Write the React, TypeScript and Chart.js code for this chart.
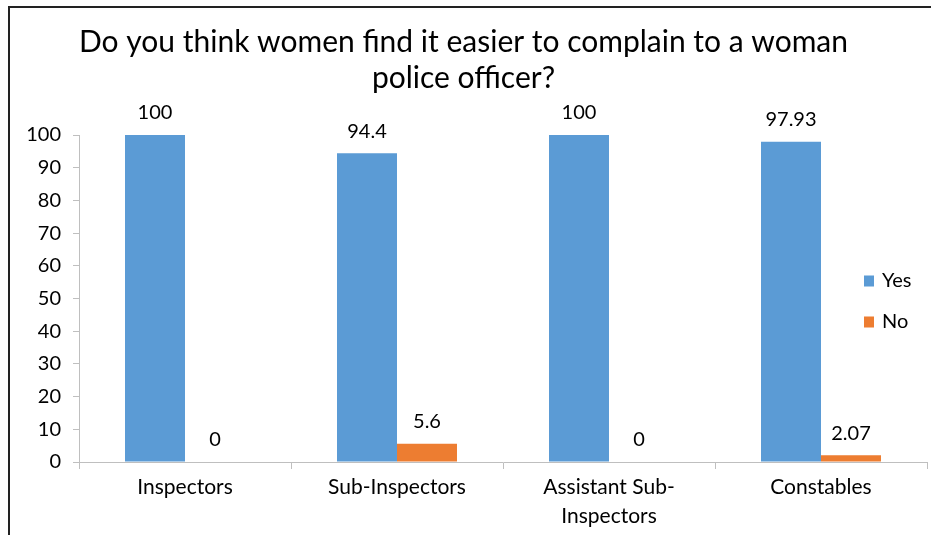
import React, { useEffect, useRef } from 'react';
import { Chart, registerables } from 'chart.js';

Chart.register(...registerables);

const titleLines = ['Do you think women find it easier to complain to a woman', 'police officer?'];
const categories: (string | string[])[] = ['Inspectors', 'Sub-Inspectors', ['Assistant Sub-', 'Inspectors'], 'Constables'];
const yesValues = [100, 94.4, 100, 97.93];
const noValues = [0, 5.6, 0, 2.07];
const seriesNames = ['Yes', 'No'];
const seriesColors = ['#5B9BD5', '#ED7D31'];
const yMin = 0;
const yMax = 100;
const yStep = 10;

const FONT = 'Lato, "Open Sans", sans-serif';

const borderPlugin = {
  id: 'frameBorder',
  afterDraw(chart: any) {
    const ctx = chart.ctx;
    ctx.save();
    ctx.strokeStyle = '#222';
    ctx.lineWidth = 2;
    ctx.beginPath();
    ctx.moveTo(9, chart.height);
    ctx.lineTo(9, 7);
    ctx.lineTo(chart.width, 7);
    ctx.stroke();
    ctx.restore();
  },
};

const valueLabelPlugin = {
  id: 'valueLabels',
  afterDatasetsDraw(chart: any) {
    const ctx = chart.ctx;
    ctx.save();
    ctx.font = `20px ${FONT}`;
    ctx.fillStyle = '#000';
    ctx.textAlign = 'center';
    ctx.textBaseline = 'middle';
    chart.data.datasets.forEach((ds: any, di: number) => {
      const meta = chart.getDatasetMeta(di);
      meta.data.forEach((bar: any, i: number) => {
        ctx.fillText(String(ds.data[i]), bar.x, bar.y - 22);
      });
    });
    ctx.restore();
  },
};

const legendPlugin = {
  id: 'customLegend',
  afterDraw(chart: any) {
    const ctx = chart.ctx;
    const area = chart.chartArea;
    ctx.save();
    ctx.font = `20px ${FONT}`;
    ctx.textAlign = 'left';
    ctx.textBaseline = 'middle';
    chart.data.datasets.forEach((ds: any, di: number) => {
      const x = area.right - 63;
      const yc = area.top + 146 + di * 41;
      ctx.fillStyle = ds.backgroundColor;
      ctx.fillRect(x, yc - 5.5, 10, 11);
      ctx.fillStyle = '#000';
      ctx.fillText(ds.label, x + 18, yc);
    });
    ctx.restore();
  },
};

export default function App() {
  const canvasRef = useRef<HTMLCanvasElement | null>(null);

  useEffect(() => {
    document.body.style.margin = '0';
    const canvas = canvasRef.current;
    if (!canvas) return;
    const chart = new Chart(canvas, {
      type: 'bar',
      data: {
        labels: categories as any,
        datasets: [
          { label: seriesNames[0], data: yesValues, backgroundColor: seriesColors[0], categoryPercentage: 0.566, barPercentage: 1 },
          { label: seriesNames[1], data: noValues, backgroundColor: seriesColors[1], categoryPercentage: 0.566, barPercentage: 1 },
        ],
      },
      options: {
        responsive: false,
        animation: false,
        layout: { padding: { top: 7, right: 4, left: 0, bottom: 0 } },
        plugins: {
          legend: { display: false },
          tooltip: { enabled: false },
          title: {
            display: true,
            text: titleLines,
            color: '#000',
            font: { family: FONT, size: 30, weight: 'normal', lineHeight: 1.2 },
            padding: { top: 17, bottom: 39 },
          },
        },
        scales: {
          x: {
            grid: { drawOnChartArea: false, drawTicks: true, tickLength: 7, color: '#BFBFBF', offset: true },
            border: { display: true, color: '#BFBFBF', width: 1 },
            ticks: { color: '#000', font: { family: FONT, size: 21, lineHeight: 1.38 }, padding: 4, maxRotation: 0, autoSkip: false },
            afterFit: (scale: any) => { scale.height = 73; },
          },
          y: {
            min: yMin,
            max: yMax,
            grid: { drawOnChartArea: false, drawTicks: true, tickLength: 6, color: '#BFBFBF' },
            border: { display: true, color: '#BFBFBF', width: 1 },
            ticks: { stepSize: yStep, color: '#000', font: { family: FONT, size: 20 }, padding: 12 },
            afterFit: (scale: any) => { scale.width = 79; },
          },
        },
      },
      plugins: [valueLabelPlugin, legendPlugin, borderPlugin],
    });
    return () => chart.destroy();
  }, []);

  return (
    <div style={{ width: 931, height: 535, background: '#fff' }}>
      <canvas ref={canvasRef} width={931} height={535} />
    </div>
  );
}
